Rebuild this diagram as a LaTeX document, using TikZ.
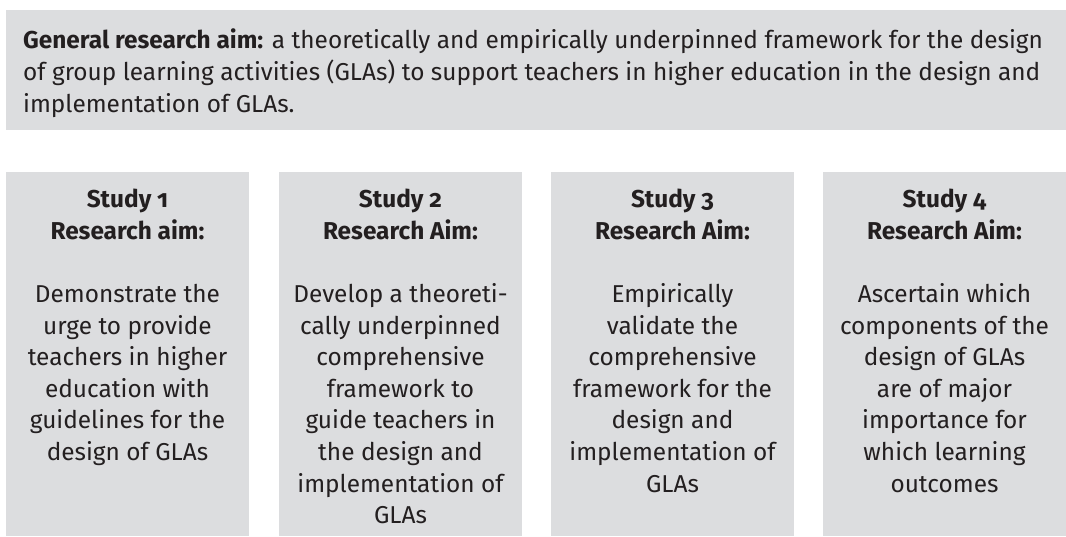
\documentclass[tikz,border=0pt]{standalone}
\usepackage{fontspec}
\setmainfont{Fira Sans}[Numbers=OldStyle]
\definecolor{panel}{HTML}{DCDDDF}
\definecolor{ink}{HTML}{231F20}
\begin{document}
\begin{tikzpicture}[x=1pt,y=-1pt,
  panelbox/.style={fill=panel, draw=none},
  body/.style={text=ink, font=\fontsize{24.4}{31.6}\selectfont, inner sep=0pt},
  studytext/.style={body, align=center, anchor=north}]
\useasboundingbox (0,0) rectangle (1066,536);

% overall aim
\path[panelbox] (6,10) rectangle (1066,130);
\node[body, align=left, anchor=north west] (aim) at (23,29)
  {\textbf{General research aim:} a theoretically and empirically underpinned framework for the design\\
   of group learning activities (GLAs) to support teachers in higher education in the design and\\
   implementation of GLAs.};

% the four studies
\path[panelbox] (6,172) rectangle (249,536);
\path[panelbox] (279,172) rectangle (522,536);
\path[panelbox] (551,172) rectangle (794,536);
\path[panelbox] (823,172) rectangle (1066,536);

\node[studytext] (s1) at (127.5,189)
  {\textbf{Study 1}\\\textbf{Research aim:}\\[31.6pt]
   Demonstrate the\\urge to provide\\teachers in higher\\education with\\guidelines for the\\design of GLAs};
\node[studytext] (s2) at (400.5,189)
  {\textbf{Study 2}\\\textbf{Research Aim:}\\[31.6pt]
   Develop a theoreti-\\cally underpinned\\comprehensive\\framework to\\guide teachers in\\the design and\\implementation of\\GLAs};
\node[studytext] (s3) at (672.5,189)
  {\textbf{Study 3}\\\textbf{Research Aim:}\\[31.6pt]
   Empirically\\validate the\\comprehensive\\framework for the\\design and\\implementation of\\GLAs};
\node[studytext] (s4) at (944.5,189)
  {\textbf{Study 4}\\\textbf{Research Aim:}\\[31.6pt]
   Ascertain which\\components of the\\design of GLAs\\are of major\\importance for\\which learning\\outcomes};
\end{tikzpicture}
\end{document}
